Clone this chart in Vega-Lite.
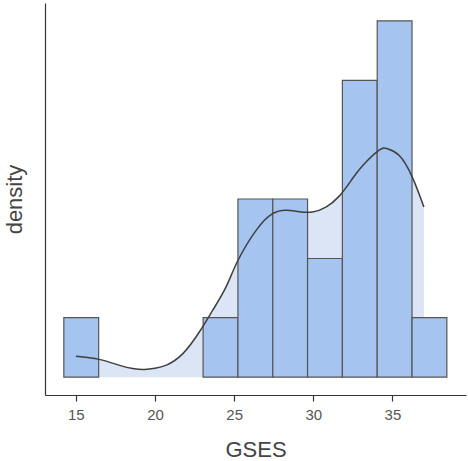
{
  "$schema": "https://vega.github.io/schema/vega-lite/v6.json",
  "width": 421,
  "height": 392,
  "autosize": {"type": "none"},
  "padding": {"left": 45, "top": 3, "right": 2, "bottom": 66},
  "background": "white",
  "config": {
    "view": {"stroke": null},
    "font": "Liberation Sans",
    "axis": {"grid": false, "domainColor": "#333333", "domainWidth": 1.2, "tickColor": "#333333", "tickWidth": 1.2}
  },
  "datasets": {
    "bins": [
      {"bin_start": 14.24, "bin_end": 16.44, "density": 0.0207},
      {"bin_start": 23.04, "bin_end": 25.24, "density": 0.0207},
      {"bin_start": 25.24, "bin_end": 27.44, "density": 0.062},
      {"bin_start": 27.44, "bin_end": 29.64, "density": 0.062},
      {"bin_start": 29.64, "bin_end": 31.84, "density": 0.0413},
      {"bin_start": 31.84, "bin_end": 34.04, "density": 0.1033},
      {"bin_start": 34.04, "bin_end": 36.24, "density": 0.124},
      {"bin_start": 36.24, "bin_end": 38.44, "density": 0.0207}
    ],
    "curve": [
      {"GSES": 15.0, "density": 0.0073},
      {"GSES": 16.47, "density": 0.0062},
      {"GSES": 17.77, "density": 0.0041},
      {"GSES": 18.6, "density": 0.0030},
      {"GSES": 19.35, "density": 0.0027},
      {"GSES": 20.0, "density": 0.0031},
      {"GSES": 20.72, "density": 0.0042},
      {"GSES": 21.76, "density": 0.0082},
      {"GSES": 22.81, "density": 0.0158},
      {"GSES": 23.65, "density": 0.0233},
      {"GSES": 24.49, "density": 0.0314},
      {"GSES": 25.23, "density": 0.0405},
      {"GSES": 26.39, "density": 0.0511},
      {"GSES": 27.43, "density": 0.0569},
      {"GSES": 28.28, "density": 0.0581},
      {"GSES": 29.11, "density": 0.0576},
      {"GSES": 29.95, "density": 0.0575},
      {"GSES": 30.8, "density": 0.0592},
      {"GSES": 31.64, "density": 0.0630},
      {"GSES": 32.4, "density": 0.0685},
      {"GSES": 33.1, "density": 0.0735},
      {"GSES": 34.16, "density": 0.0790},
      {"GSES": 34.68, "density": 0.0795},
      {"GSES": 35.42, "density": 0.0772},
      {"GSES": 36.25, "density": 0.0697},
      {"GSES": 36.99, "density": 0.0592}
    ]
  },
  "layer": [
    {
      "data": {"name": "curve"},
      "mark": {"type": "area", "color": "#DBE5F6", "interpolate": "natural"},
      "encoding": {
        "x": {"field": "GSES", "type": "quantitative",
              "scale": {"domain": [13.05, 39.65], "nice": false, "zero": false},
              "axis": {"values": [15, 20, 25, 30, 35], "tickSize": 6, "labelFontSize": 15, "labelColor": "#555555", "labelPadding": 6,
                       "title": "GSES", "titleFontSize": 22, "titleFontWeight": "normal", "titleColor": "#444444",
                       "titleBaseline": "alphabetic", "titleY": 61.6}},
        "y": {"field": "density", "type": "quantitative",
              "scale": {"domain": [-0.0062, 0.1302], "nice": false, "zero": false},
              "axis": {"labels": false, "ticks": false, "title": "density", "titleFontSize": 22, "titleFontWeight": "normal",
                       "titleColor": "#444444", "titleBaseline": "alphabetic", "titleX": -23.6}}
      }
    },
    {
      "data": {"name": "bins"},
      "mark": {"type": "rect", "fill": "#A5C4EF", "stroke": "#555555", "strokeWidth": 1.2},
      "encoding": {
        "x": {"field": "bin_start", "type": "quantitative"},
        "x2": {"field": "bin_end"},
        "y": {"field": "density", "type": "quantitative"},
        "y2": {"datum": 0}
      }
    },
    {
      "data": {"name": "curve"},
      "mark": {"type": "line", "color": "#3f3f3f", "strokeWidth": 1.5, "interpolate": "natural"},
      "encoding": {
        "x": {"field": "GSES", "type": "quantitative"},
        "y": {"field": "density", "type": "quantitative"}
      }
    }
  ]
}
